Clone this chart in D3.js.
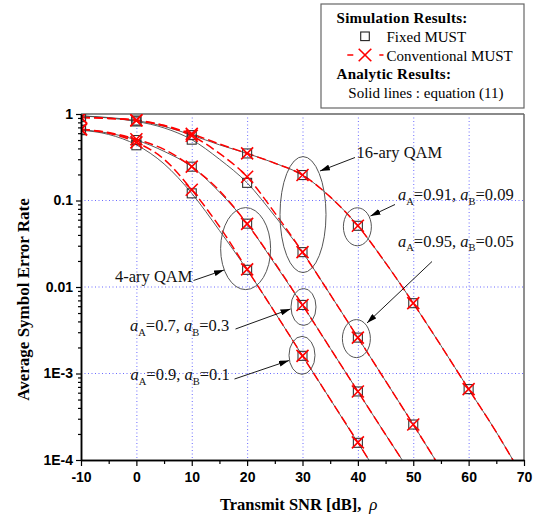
<!DOCTYPE html>
<html>
<head>
<meta charset="utf-8">
<script src="https://cdn.jsdelivr.net/npm/d3@7"></script>
<style>
  body { margin: 0; background: #fff; }
  svg { display: block; }
</style>
</head>
<body>
<svg id="chart" width="539" height="517"></svg>
<script>
// ---- axis ticks ----
const snrTicks = [-10, 0, 10, 20, 30, 40, 50, 60, 70];
const snrTickLabels = ["-10", "0", "10", "20", "30", "40", "50", "60", "70"];
const snrMinorTicks = [-5, 5, 15, 25, 35, 45, 55, 65];
const serTicks = [1, 0.1, 0.01, 1e-3, 1e-4];
const serTickLabels = ["1", "0.1", "0.01", "1E-3", "1E-4"];
const gridSnr = [0, 10, 20, 30, 40, 50, 60];
const gridSer = [0.1, 0.01, 1e-3];

// ---- power allocation per curve (order: 4QAM 0.9/0.1, 4QAM 0.7/0.3, 16QAM 0.95/0.05, 16QAM 0.91/0.09) ----
const alphaA = ["0.9", "0.7", "0.95", "0.91"];
const alphaB = ["0.1", "0.3", "0.05", "0.09"];

// ---- analytic SER, equation (11) : [SNR dB, SER] ----
const analytic4qam91 = [[-10,0.65],[-5,0.58],[0,0.44],[5,0.265],[10,0.121],[15,0.045],[20,0.0158],[25,5.1e-3],[30,1.6e-3],[35,5.05e-4],[40,1.58e-4],[42,1.0e-4]];
const analytic4qam73 = [[-10,0.66],[-5,0.60],[0,0.50],[5,0.37],[10,0.246],[15,0.125],[20,0.054],[25,0.0185],[30,6.2e-3],[35,1.96e-3],[40,6.2e-4],[45,1.97e-4],[48,1.0e-4]];
const analytic16qam955 = [[-10,0.95],[-5,0.90],[0,0.82],[5,0.69],[10,0.505],[15,0.30],[20,0.16],[25,0.066],[30,0.0253],[35,8.2e-3],[40,2.6e-3],[45,8.2e-4],[50,2.57e-4],[54,1.0e-4]];
const analytic16qam919 = [[-10,0.95],[-5,0.91],[0,0.84],[5,0.72],[10,0.57],[15,0.44],[20,0.35],[25,0.27],[30,0.197],[35,0.11],[40,0.051],[45,0.019],[50,6.5e-3],[55,2.1e-3],[60,6.6e-4],[65,2.1e-4],[68,1.0e-4]];

// ---- conventional MUST simulation curves ----
const conv4qam91 = [[-10,0.66],[-5,0.60],[0,0.47],[5,0.30],[10,0.133],[15,0.05],[20,0.016],[25,5.1e-3],[30,1.6e-3],[35,5.05e-4],[40,1.6e-4],[42,1.0e-4]];
const conv4qam73 = [[-10,0.67],[-5,0.61],[0,0.51],[5,0.39],[10,0.246],[15,0.13],[20,0.0537],[25,0.019],[30,6.2e-3],[35,1.96e-3],[40,6.2e-4],[45,1.97e-4],[48,1.0e-4]];
const conv16qam955 = [[-10,0.91],[-5,0.89],[0,0.84],[5,0.73],[10,0.56],[15,0.35],[20,0.188],[25,0.072],[30,0.0253],[35,8.2e-3],[40,2.6e-3],[45,8.2e-4],[50,2.57e-4],[54,1.0e-4]];
const conv16qam919 = [[-10,0.91],[-5,0.89],[0,0.85],[5,0.74],[10,0.59],[15,0.45],[20,0.35],[25,0.27],[30,0.197],[35,0.11],[40,0.051],[45,0.019],[50,6.5e-3],[55,2.1e-3],[60,6.6e-4],[65,2.1e-4],[68,1.0e-4]];

// ---- simulated points ----
const convMarks4qam91 = [[-10,0.66],[0,0.47],[10,0.133],[20,0.016],[30,1.6e-3],[40,1.6e-4]];
const convMarks4qam73 = [[-10,0.67],[0,0.51],[10,0.246],[20,0.0537],[30,6.2e-3],[40,6.2e-4]];
const convMarks16qam955 = [[-10,0.91],[0,0.84],[10,0.56],[20,0.188],[30,0.0253],[40,2.6e-3],[50,2.57e-4]];
const convMarks16qam919 = [[-10,0.91],[0,0.85],[10,0.59],[20,0.35],[30,0.197],[40,0.051],[50,6.5e-3],[60,6.6e-4]];

const fixedMarks4qam91 = [[-10,0.65],[0,0.435],[10,0.121],[20,0.0158],[30,1.6e-3],[40,1.58e-4]];
const fixedMarks4qam73 = [[-10,0.66],[0,0.50],[10,0.246],[20,0.054],[30,6.2e-3],[40,6.2e-4]];
const fixedMarks16qam955 = [[-10,0.92],[0,0.82],[10,0.505],[20,0.16],[30,0.0253],[40,2.6e-3],[50,2.57e-4]];
const fixedMarks16qam919 = [[-10,0.93],[0,0.84],[10,0.57],[20,0.35],[30,0.197],[40,0.051],[50,6.5e-3],[60,6.6e-4]];

const analyticCurves = [analytic4qam91, analytic4qam73, analytic16qam955, analytic16qam919];
const convCurves = [conv4qam91, conv4qam73, conv16qam955, conv16qam919];
const convMarks = [convMarks4qam91, convMarks4qam73, convMarks16qam955, convMarks16qam919];
const fixedMarks = [fixedMarks4qam91, fixedMarks4qam73, fixedMarks16qam955, fixedMarks16qam919];

// ---- layout ----
const plot = { left: 81, right: 524, top: 114, bottom: 460 };
const serif = "'Liberation Serif', 'Times New Roman', serif";
const sans = "'Liberation Sans', Arial, sans-serif";

const svg = d3.select("#chart");

const x = d3.scaleLinear().domain([-10, 70]).range([plot.left, plot.right]);
const y = d3.scaleLog().domain([1e-4, 1]).range([plot.bottom, plot.top]);

const defs = svg.append("defs");
defs.append("clipPath").attr("id", "plotClip")
  .append("rect")
  .attr("x", plot.left).attr("y", plot.top)
  .attr("width", plot.right - plot.left).attr("height", plot.bottom - plot.top);
defs.append("marker")
  .attr("id", "arrowHead")
  .attr("viewBox", "0 0 10 6")
  .attr("refX", 10).attr("refY", 3)
  .attr("markerWidth", 10).attr("markerHeight", 6)
  .attr("markerUnits", "userSpaceOnUse")
  .attr("orient", "auto")
  .append("path").attr("d", "M0,0L10,3L0,6Z").attr("fill", "#000");

// grid
const grid = svg.append("g").attr("stroke", "#6b6bff").attr("stroke-width", 1)
  .attr("stroke-dasharray", "1,2.5");
grid.selectAll("line.gx").data(gridSnr).join("line")
  .attr("x1", d => x(d) + 0.5).attr("x2", d => x(d) + 0.5)
  .attr("y1", plot.top).attr("y2", plot.bottom);
grid.selectAll("line.gy").data(gridSer).join("line")
  .attr("x1", plot.left).attr("x2", plot.right)
  .attr("y1", d => y(d)).attr("y2", d => y(d));

// frame (top / right)
svg.append("line").attr("x1", plot.left).attr("x2", plot.right)
  .attr("y1", plot.top).attr("y2", plot.top)
  .attr("stroke", "#8a8a8a").attr("stroke-width", 2);
svg.append("line").attr("x1", plot.right).attr("x2", plot.right)
  .attr("y1", plot.top).attr("y2", plot.bottom)
  .attr("stroke", "#6a6a6a").attr("stroke-width", 1.5);

// curves
const line = d3.line().x(d => x(d[0])).y(d => y(d[1])).curve(d3.curveMonotoneX);
const curves = svg.append("g").attr("clip-path", "url(#plotClip)");

curves.selectAll("path.analytic").data(analyticCurves).join("path")
  .attr("class", "analytic")
  .attr("d", line)
  .attr("fill", "none").attr("stroke", "#4a4a4a").attr("stroke-width", 0.9);

curves.selectAll("path.conv").data(convCurves).join("path")
  .attr("class", "conv")
  .attr("d", line)
  .attr("fill", "none").attr("stroke", "#ff0000").attr("stroke-width", 1.5)
  .attr("stroke-dasharray", "9,4");

// fixed MUST squares
const sq = 9;
fixedMarks.forEach(pts => {
  curves.append("g").selectAll("rect").data(pts).join("rect")
    .attr("x", d => x(d[0]) - sq / 2).attr("y", d => y(d[1]) - sq / 2)
    .attr("width", sq).attr("height", sq)
    .attr("fill", "none").attr("stroke", "#333").attr("stroke-width", 1.1);
});

// conventional MUST crosses
const cr = 6;
function cross(g, cx, cy, r) {
  g.append("line").attr("x1", cx - r).attr("y1", cy - r).attr("x2", cx + r).attr("y2", cy + r);
  g.append("line").attr("x1", cx - r).attr("y1", cy + r).attr("x2", cx + r).attr("y2", cy - r);
}
const crossG = curves.append("g").attr("stroke", "#ff0000").attr("stroke-width", 1.6);
convMarks.forEach(pts => pts.forEach(d => cross(crossG, x(d[0]), y(d[1]), cr)));

// axes
const xAxis = d3.axisBottom(x).tickValues(snrTicks).tickSize(6).tickSizeOuter(0).tickPadding(6)
  .tickFormat((d, i) => snrTickLabels[i]);
const xMinor = d3.axisBottom(x).tickValues(snrMinorTicks).tickSize(4).tickSizeOuter(0).tickFormat("");
const minorSer = [];
[1e-4, 1e-3, 1e-2, 1e-1].forEach(dec => { for (let k = 2; k <= 9; k++) minorSer.push(dec * k); });
const yAxis = d3.axisLeft(y).tickValues(serTicks).tickSize(5).tickSizeOuter(0).tickPadding(3)
  .tickFormat((d, i) => serTickLabels[i]);
const yMinor = d3.axisLeft(y).tickValues(minorSer).tickSize(3).tickSizeOuter(0).tickFormat("");

function styleAxis(g) {
  g.select(".domain").attr("stroke", "#000").attr("stroke-width", 1.5);
  g.selectAll(".tick line").attr("stroke", "#000").attr("stroke-width", 1.2);
  g.selectAll(".tick text").attr("font-family", sans).attr("font-weight", "bold")
    .attr("font-size", 14).attr("fill", "#000");
}
svg.append("g").attr("transform", `translate(0,${plot.bottom})`).call(xMinor).call(styleAxis);
svg.append("g").attr("transform", `translate(0,${plot.bottom})`).call(xAxis).call(styleAxis);
svg.append("g").attr("transform", `translate(${plot.left},0)`).call(yMinor).call(styleAxis);
svg.append("g").attr("transform", `translate(${plot.left},0)`).call(yAxis).call(styleAxis);

// axis titles
const xTitle = svg.append("text").attr("x", 220).attr("y", 510)
  .attr("font-family", serif).attr("font-size", 16.5).attr("fill", "#000");
xTitle.append("tspan").attr("font-weight", "bold").text("Transmit SNR [dB],");
xTitle.append("tspan").attr("dx", 8).attr("font-style", "italic").attr("font-size", 17).text("ρ");

svg.append("text")
  .attr("transform", "translate(29,299.5) rotate(-90)")
  .attr("text-anchor", "middle")
  .attr("font-family", serif).attr("font-weight", "bold").attr("font-size", 17)
  .attr("fill", "#000")
  .text("Average Symbol Error Rate");

// annotations: ellipses around simulated points
const ann = svg.append("g").attr("fill", "none").attr("stroke", "#555").attr("stroke-width", 1);
function ringAround(pts, rx, ry, dx, dy) {
  const cx = d3.mean(pts, d => x(d[0])) + dx;
  const cy = d3.mean(pts, d => y(d[1])) + dy;
  ann.append("ellipse").attr("cx", cx).attr("cy", cy).attr("rx", rx).attr("ry", ry);
}
ringAround([convMarks4qam73[3], convMarks4qam91[3]], 25, 41, -1.5, 2);
ringAround([convMarks16qam919[4], convMarks16qam955[4]], 23, 58, 0.5, 1);
ringAround([convMarks16qam919[5]], 14, 19, -0.5, 1);
ringAround([convMarks16qam955[5]], 14, 19, -1.5, 1);
ringAround([convMarks4qam73[4]], 12.5, 18.5, 1, 2);
ringAround([convMarks4qam91[4]], 13, 19, -0.5, -0.5);

// arrows
const arrowG = svg.append("g").attr("stroke", "#000").attr("stroke-width", 0.9);
[[355, 157.5, 320, 171], [395, 204.5, 370.5, 216], [432, 261.5, 367, 323],
 [193.5, 280.5, 224, 270], [235.5, 329, 290.5, 309], [234.5, 379, 289, 360.5]]
  .forEach(a => arrowG.append("line")
    .attr("x1", a[0]).attr("y1", a[1]).attr("x2", a[2]).attr("y2", a[3])
    .attr("marker-end", "url(#arrowHead)"));

// annotation texts
const labelSize = 16.5, subSize = 10.5, subShift = 4.5;
function plainLabel(tx, ty, str) {
  svg.append("text").attr("x", tx).attr("y", ty)
    .attr("font-family", serif).attr("font-size", labelSize).attr("fill", "#111").text(str);
}
function allocLabel(tx, ty, i) {
  const t = svg.append("text").attr("x", tx).attr("y", ty)
    .attr("font-family", serif).attr("font-size", labelSize).attr("fill", "#111");
  t.append("tspan").attr("font-style", "italic").text("a");
  t.append("tspan").attr("font-size", subSize).attr("dy", subShift).text("A");
  t.append("tspan").attr("dy", -subShift).text("=" + alphaA[i] + ", ");
  t.append("tspan").attr("font-style", "italic").text("a");
  t.append("tspan").attr("font-size", subSize).attr("dy", subShift).text("B");
  t.append("tspan").attr("dy", -subShift).text("=" + alphaB[i]);
}
plainLabel(356.5, 158, "16-ary QAM");
plainLabel(115, 282, "4-ary QAM");
allocLabel(398, 200, 3);
allocLabel(398, 246.5, 2);
allocLabel(130, 331, 1);
allocLabel(130.5, 380, 0);

// legend
const lg = svg.append("g");
lg.append("rect").attr("x", 321).attr("y", 4).attr("width", 203).attr("height", 104)
  .attr("fill", "#fff").attr("stroke", "#666").attr("stroke-width", 1.2);
function legendText(tx, ty, str, bold) {
  lg.append("text").attr("x", tx).attr("y", ty)
    .attr("font-family", serif).attr("font-size", 15)
    .attr("font-weight", bold ? "bold" : "normal")
    .attr("letter-spacing", bold ? 0.3 : 0)
    .attr("fill", "#000").text(str);
}
legendText(336.5, 22.5, "Simulation Results:", true);
lg.append("rect").attr("x", 360.7).attr("y", 32).attr("width", 8.6).attr("height", 8.6)
  .attr("fill", "none").attr("stroke", "#222").attr("stroke-width", 1.1);
legendText(386.5, 41.5, "Fixed MUST", false);
lg.append("line").attr("x1", 347.3).attr("x2", 383.5).attr("y1", 55).attr("y2", 55)
  .attr("stroke", "#ff0000").attr("stroke-width", 1.5).attr("stroke-dasharray", "6,26");
const lgCross = lg.append("g").attr("stroke", "#ff0000").attr("stroke-width", 1.6);
cross(lgCross, 365, 55, 6.3);
legendText(386.5, 61, "Conventional MUST", false);
legendText(336.5, 79, "Analytic Results:", true);
legendText(348.3, 98.3, "Solid lines : equation (11)", false);
</script>
</body>
</html>
